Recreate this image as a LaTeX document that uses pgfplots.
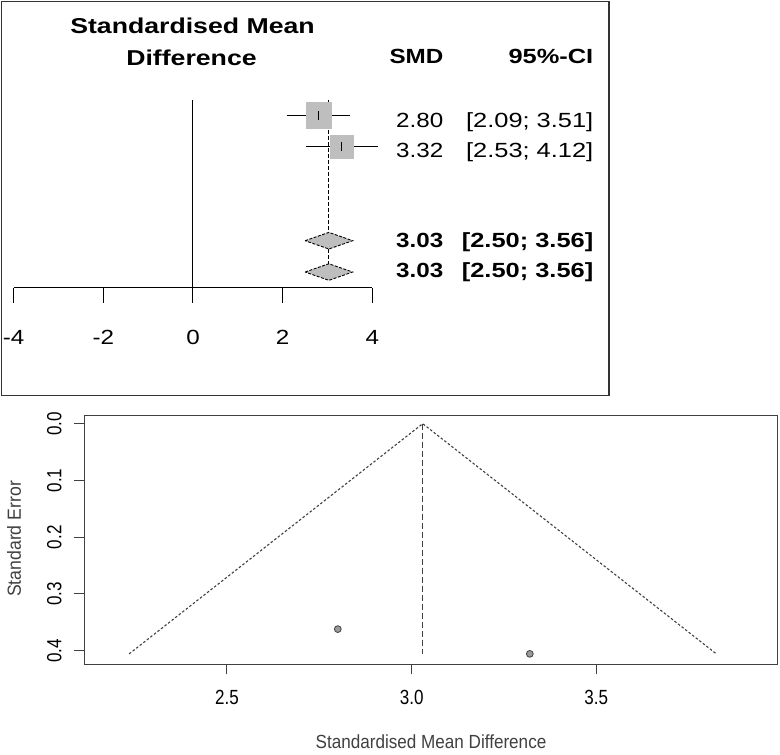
\documentclass[border=0pt]{standalone}
\usepackage{fontspec}
\setmainfont{Liberation Sans}
\usepackage{graphicx}
\usepackage{pgfplots}
\pgfplotsset{compat=1.18}

\definecolor{sqgray}{HTML}{BEBEBE}
\definecolor{framegray}{HTML}{333333}
\definecolor{axgray}{HTML}{404040}
\definecolor{ptgray}{HTML}{9A9A9A}

% the forest part is set a bit wide, the funnel part narrow
\newcommand{\wide}[1]{\scalebox{1.18}[1]{#1}}
\newcommand{\hwide}[1]{\scalebox{1.24}[1]{#1}}
\newcommand{\narrow}[1]{\scalebox{0.83}[1]{#1}}
\newcommand{\fsz}{\fontsize{20.5}{22}\selectfont}

\begin{document}
\begin{tikzpicture}
\useasboundingbox (0pt,0pt) rectangle (780pt,-755pt);

% ---------- forest plot ----------
\draw[framegray, line width=1.3pt] (1.5pt,-1.7pt) rectangle (609pt,-395.7pt);

\begin{axis}[
  at={(13.6pt,-287.7pt)}, anchor=south west,
  scale only axis, width=358.8pt, height=188pt,
  xmin=-4, xmax=4, ymin=-6.5, ymax=-0.5,
  axis x line*=bottom, hide y axis,
  axis line style={black, line width=1pt},
  xtick={-4,-2,0,2,4},
  xticklabels={\wide{-4},\wide{-2},\wide{0},\wide{2},\wide{4}},
  xtick align=outside, major tick length=15pt,
  tick style={black, line width=1pt},
  xticklabel style={font=\fsz, inner sep=0pt, anchor=north},
  xticklabel shift=27pt,
  clip=false,
]
% squares (study weights)
\addplot[sqgray, only marks, mark=square*, mark size=12.8pt]
  coordinates {(2.80,-1)};
\addplot[sqgray, only marks, mark=square*, mark size=11.8pt]
  coordinates {(3.32,-2)};
% confidence intervals
\addplot[black, line width=1pt] coordinates {(2.09,-1) (3.51,-1)};
\addplot[black, line width=1pt] coordinates {(2.53,-2) (4.12,-2)};
\addplot[black, only marks, mark=|, mark size=4.5pt, mark options={line width=1.2pt}]
  coordinates {(2.80,-1) (3.32,-2)};
% pooled estimates
\addplot[fill=sqgray, draw=black, line width=0.9pt, dash pattern=on 3pt off 1.5pt]
  coordinates {(2.50,-5) (3.03,-4.735) (3.56,-5) (3.03,-5.265)} -- cycle;
\addplot[fill=sqgray, draw=black, line width=0.9pt, dash pattern=on 3pt off 1.5pt]
  coordinates {(2.50,-6) (3.03,-5.735) (3.56,-6) (3.03,-6.265)} -- cycle;
% reference lines
\addplot[black, line width=1pt] coordinates {(0,-0.5) (0,-6.5)};
\addplot[black, line width=1pt, dash pattern=on 4pt off 2pt]
  coordinates {(3.03,-0.5) (3.03,-4.735)};
\addplot[black, line width=1pt, dash pattern=on 4pt off 2pt]
  coordinates {(3.03,-5.265) (3.03,-5.735)};
\end{axis}

\begin{scope}[every node/.style={inner sep=0pt}]
\node[anchor=base, font=\fontsize{21.5}{23}\selectfont\bfseries] at (192.5pt,-33pt) {\hwide{Standardised Mean}};
\node[anchor=base, font=\fontsize{21.5}{23}\selectfont\bfseries] at (191.5pt,-65pt) {\hwide{Difference}};
\node[anchor=base east, font=\fsz\bfseries] at (443.5pt,-63.5pt) {\wide{SMD}};
\node[anchor=base east, font=\fsz\bfseries] at (593.5pt,-63.5pt) {\hwide{95\%-CI}};
\node[anchor=base east, font=\fsz] at (443.5pt,-127pt) {\wide{2.80}};
\node[anchor=base east, font=\fsz] at (593.5pt,-127pt) {\hwide{[2.09; 3.51]}};
\node[anchor=base east, font=\fsz] at (443.5pt,-157pt) {\wide{3.32}};
\node[anchor=base east, font=\fsz] at (593.5pt,-157pt) {\hwide{[2.53; 4.12]}};
\node[anchor=base east, font=\fsz\bfseries] at (443.5pt,-247.5pt) {\wide{3.03}};
\node[anchor=base east, font=\fsz\bfseries] at (593.5pt,-247.5pt) {\hwide{[2.50; 3.56]}};
\node[anchor=base east, font=\fsz\bfseries] at (443.5pt,-277pt) {\wide{3.03}};
\node[anchor=base east, font=\fsz\bfseries] at (593.5pt,-277pt) {\hwide{[2.50; 3.56]}};
\end{scope}

% ---------- funnel plot ----------
\begin{axis}[
  at={(84.3pt,-664.3pt)}, anchor=south west,
  scale only axis, width=693.2pt, height=249.3pt,
  xmin=2.1136, xmax=3.9907, ymin=-0.0153, ymax=0.424,
  y dir=reverse,
  axis line style={axgray, line width=1pt},
  tick style={axgray, line width=1pt},
  xtick={2.5,3.0,3.5}, ytick={0,0.1,0.2,0.3,0.4},
  xticklabels={\narrow{2.5},\narrow{3.0},\narrow{3.5}},
  yticklabels={\narrow{0.0},\narrow{0.1},\narrow{0.2},\narrow{0.3},\narrow{0.4}},
  tick align=outside, major tick length=10pt,
  xtick pos=bottom, ytick pos=left,
  xticklabel style={font=\fsz, inner sep=0pt, anchor=north},
  yticklabel style={font=\fsz, inner sep=0pt, rotate=90, anchor=south},
  xticklabel shift=15.5pt, yticklabel shift=12.5pt,
  clip=false,
]
\addplot[axgray, line width=1.1pt, dash pattern=on 2.5pt off 2pt]
  coordinates {(2.235,0.4056) (3.03,0) (3.825,0.4056)};
\addplot[axgray, line width=1.1pt, dash pattern=on 6pt off 3pt]
  coordinates {(3.03,0) (3.03,0.4056)};
\addplot[only marks, mark=*, mark size=3.4pt,
  mark options={fill=ptgray, draw=axgray, line width=0.8pt}]
  coordinates {(2.80,0.362) (3.32,0.4056)};
\end{axis}

\node[inner sep=0pt, rotate=90, font=\fontsize{19}{20}\selectfont, text=axgray]
  at (14pt,-539pt) {\scalebox{0.93}[1]{Standard Error}};
\node[inner sep=0pt, font=\fontsize{19}{20}\selectfont, text=axgray]
  at (431pt,-741.5pt) {\scalebox{0.9}[1]{Standardised Mean Difference}};
\end{tikzpicture}
\end{document}
